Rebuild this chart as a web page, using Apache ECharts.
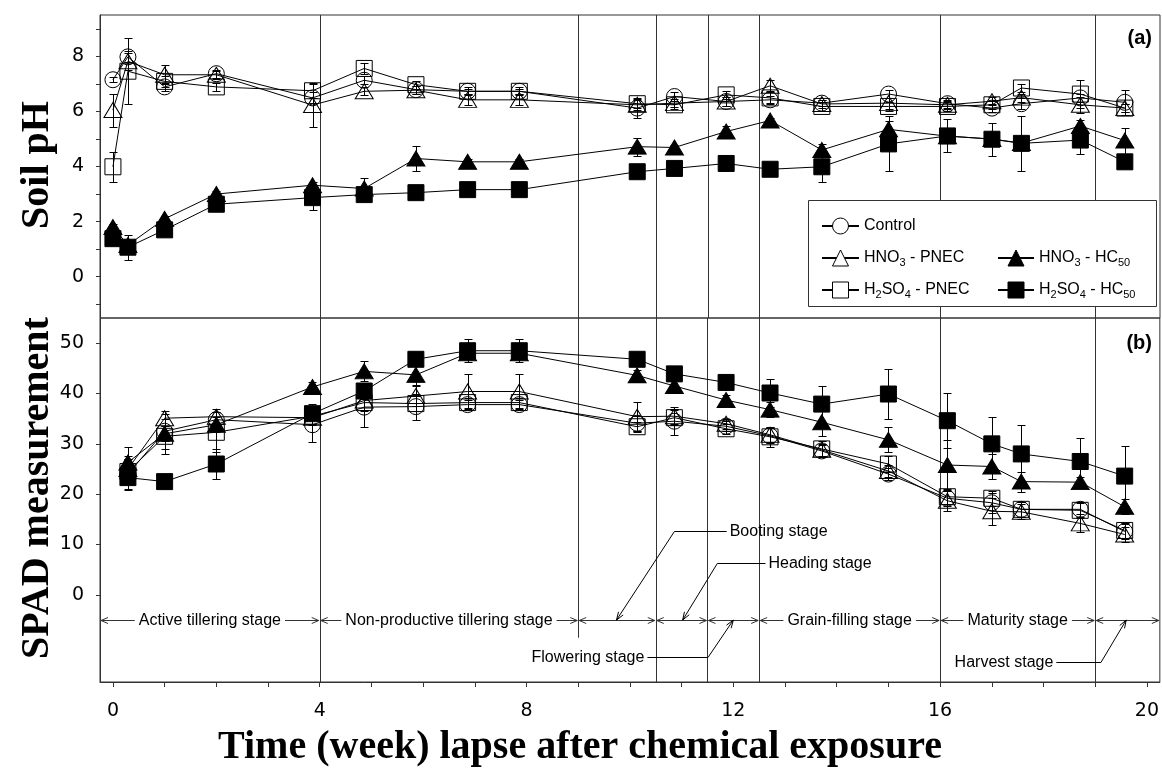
<!DOCTYPE html>
<html>
<head>
<meta charset="utf-8">
<title>Soil pH and SPAD</title>
<script src="https://cdn.jsdelivr.net/npm/echarts@6/dist/echarts.min.js"></script>
<style>
html, body { margin: 0; padding: 0; background: #fff; }
#main { width: 1162px; height: 771px; }
</style>
</head>
<body>
<div id="main"></div>
<script>
// sampling times (weeks after exposure)
var weeks = [0, 0.29, 1, 2, 3.86, 4.86, 5.86, 6.86, 7.86, 10.14, 10.86, 11.86, 12.71, 13.71, 15, 16.14, 17, 17.57, 18.71, 19.57];
var spadWeeks = [0.29, 1, 2, 3.86, 4.86, 5.86, 6.86, 7.86, 10.14, 10.86, 11.86, 12.71, 13.71, 15, 16.14, 17, 17.57, 18.71, 19.57];

// (a) soil pH
var phControl   = [7.15, 7.98, 6.89, 7.37, 6.49, 7.13, 6.79, 6.73, 6.73, 6.12, 6.54, 6.36, 6.42, 6.30, 6.63, 6.28, 6.12, 6.28, 6.49, 6.33];
var phHno3Pnec  = [6.05, 7.82, 7.33, 7.33, 6.23, 6.73, 6.77, 6.42, 6.42, 6.24, 6.30, 6.36, 6.93, 6.27, 6.30, 6.24, 6.37, 6.50, 6.24, 6.12];
var phH2so4Pnec = [3.99, 7.46, 7.09, 6.89, 6.75, 7.56, 6.97, 6.73, 6.73, 6.28, 6.24, 6.60, 6.49, 6.18, 6.18, 6.18, 6.24, 6.85, 6.63, 6.12];
var phHno3Hc    = [1.80, 1.15, 2.10, 3.00, 3.32, 3.20, 4.29, 4.17, 4.17, 4.72, 4.69, 5.27, 5.67, 4.60, 5.35, 5.10, 5.00, 4.85, 5.47, 4.94];
var phH2so4Hc   = [1.38, 1.07, 1.70, 2.63, 2.87, 2.98, 3.05, 3.16, 3.16, 3.81, 3.93, 4.11, 3.90, 3.99, 4.82, 5.11, 4.99, 4.84, 4.96, 4.17];

var phControlErr   = [0.10, 0.20, 0.15, 0.15, 0.20, 0.15, 0.15, 0.10, 0.10, 0.35, 0.15, 0.15, 0.15, 0.10, 0.15, 0.15, 0.15, 0.20, 0.15, 0.45];
var phHno3PnecErr  = [0.60, 0.30, 0.35, 0.15, 0.80, 0.15, 0.15, 0.20, 0.20, 0.20, 0.15, 0.15, 0.20, 0.15, 0.20, 0.15, 0.15, 0.15, 0.30, 0.15];
var phH2so4PnecErr = [0.55, 1.20, 0.20, 0.15, 0.25, 0.20, 0.15, 0.15, 0.15, 0.15, 0.15, 0.15, 0.20, 0.15, 0.15, 0.15, 0.15, 0.15, 0.50, 0.15];
var phHno3HcErr    = [0.10, 0.10, 0.10, 0.10, 0.10, 0.40, 0.45, 0.10, 0.10, 0.33, 0.10, 0.20, 0.10, 0.20, 0.30, 0.20, 0.20, 0.20, 0.20, 0.47];
var phH2so4HcErr   = [0.10, 0.45, 0.10, 0.10, 0.45, 0.10, 0.10, 0.10, 0.10, 0.10, 0.10, 0.10, 0.10, 0.55, 1.00, 0.60, 0.60, 1.00, 0.50, 0.10];

// (b) SPAD
var spadControl   = [24.0, 32.5, 34.8, 33.8, 37.3, 37.4, 37.8, 37.8, 34.1, 34.5, 33.5, 31.6, 28.6, 24.0, 19.2, 18.3, 17.0, 17.0, 12.6];
var spadHno3Pnec  = [25.0, 35.1, 35.4, 35.2, 38.6, 39.5, 40.4, 40.4, 35.4, 35.5, 34.0, 31.8, 28.8, 24.6, 18.7, 16.6, 16.5, 14.2, 12.0];
var spadH2so4Pnec = [24.5, 31.5, 32.3, 35.5, 38.2, 38.0, 38.2, 38.2, 33.4, 35.2, 33.0, 31.4, 29.0, 26.0, 19.5, 19.2, 17.0, 16.8, 12.8];
var spadHno3Hc    = [26.3, 32.0, 33.8, 41.3, 44.4, 43.7, 48.0, 48.0, 43.6, 41.5, 38.7, 36.8, 34.3, 30.8, 25.8, 25.5, 22.5, 22.4, 17.5];
var spadH2so4Hc   = [23.3, 22.5, 26.0, 36.0, 40.5, 46.8, 48.5, 48.5, 46.8, 43.9, 42.2, 40.1, 37.9, 39.9, 34.6, 30.0, 28.0, 26.5, 23.6];

var spadControlErr   = [3.0, 3.5, 1.5, 3.5, 4.0, 2.6, 1.0, 1.0, 1.5, 2.8, 1.0, 1.5, 1.2, 1.2, 1.5, 2.0, 1.5, 1.5, 1.5];
var spadHno3PnecErr  = [2.5, 1.5, 1.6, 1.5, 2.0, 2.0, 3.4, 3.4, 2.9, 1.5, 1.0, 1.5, 1.2, 1.2, 2.0, 2.7, 1.5, 1.8, 1.5];
var spadH2so4PnecErr = [2.5, 3.5, 4.0, 1.5, 1.5, 1.5, 1.0, 1.0, 1.0, 1.5, 1.0, 2.0, 1.5, 1.5, 1.5, 1.5, 1.5, 1.5, 1.5];
var spadHno3HcErr    = [3.0, 1.5, 1.5, 1.0, 2.0, 2.0, 1.0, 1.0, 1.0, 1.0, 1.0, 1.5, 2.7, 2.5, 5.0, 2.5, 2.0, 1.0, 1.5];
var spadH2so4HcErr   = [2.5, 0.5, 3.0, 2.0, 1.5, 1.0, 2.3, 2.3, 1.0, 1.0, 1.0, 2.7, 3.5, 5.0, 5.5, 5.3, 5.7, 4.6, 5.9];

// axis ticks
var xTicks = [0,1,2,3,4,5,6,7,8,9,10,11,12,13,14,15,16,17,18,19,20];
var xLabels = [0, 4, 8, 12, 16, 20];
var phTicks = [-1,0,1,2,3,4,5,6,7,8,9];
var phLabels = [0, 2, 4, 6, 8];
var spadLabels = [0, 10, 20, 30, 40, 50];

// growth stages
var stageBounds = [4, 9, 10.5, 11.5, 12.5, 16, 19];
var stageStart = [-0.25, 4, 9, 10.5, 11.5, 12.5, 16, 19];
var stageEnd   = [4, 9, 10.5, 11.5, 12.5, 16, 19, 20.25];
var stageLabel = ['Active tillering stage', 'Non-productive tillering stage', '', '', '', 'Grain-filling stage', 'Maturity stage', ''];
var calloutLabel = ['Booting stage', 'Heading stage', 'Flowering stage', 'Harvest stage'];

var treatments = [
  {name: 'Control',      symbol: 'circle',   size: 16,       filled: false, ph: phControl,   phErr: phControlErr,   spad: spadControl,   spadErr: spadControlErr},
  {name: 'HNO3 - PNEC',  symbol: 'triangle', size: [18, 15], filled: false, ph: phHno3Pnec,  phErr: phHno3PnecErr,  spad: spadHno3Pnec,  spadErr: spadHno3PnecErr},
  {name: 'H2SO4 - PNEC', symbol: 'rect',     size: 16,       filled: false, ph: phH2so4Pnec, phErr: phH2so4PnecErr, spad: spadH2so4Pnec, spadErr: spadH2so4PnecErr},
  {name: 'HNO3 - HC50',  symbol: 'triangle', size: [18, 15], filled: true,  ph: phHno3Hc,    phErr: phHno3HcErr,    spad: spadHno3Hc,    spadErr: spadHno3HcErr},
  {name: 'H2SO4 - HC50', symbol: 'rect',     size: 16,       filled: true,  ph: phH2so4Hc,   phErr: phH2so4HcErr,   spad: spadH2so4Hc,   spadErr: spadH2so4HcErr}
];

var XMIN = -0.25, XMAX = 20.25;
var PH_MIN = -1.5, PH_MAX = 9.5;
var SPAD_MIN = -17.3, SPAD_MAX = 55;
var STAGE_Y = -5;
var SANS = '"Liberation Sans", Arial, sans-serif';
var SERIF = '"Liberation Serif", "Times New Roman", serif';

function px(v) { return Math.round(v) + 0.5; }

function renderErr(params, api) {
  var x = api.value(0), y = api.value(1), e = api.value(2);
  var top = api.coord([x, y + e]), bot = api.coord([x, y - e]);
  var cx = px(top[0]), c = 4, st = {stroke: '#000', lineWidth: 1};
  return {type: 'group', children: [
    {type: 'line', shape: {x1: cx, y1: px(top[1]), x2: cx, y2: px(bot[1])}, style: st},
    {type: 'line', shape: {x1: cx - c, y1: px(top[1]), x2: cx + c, y2: px(top[1])}, style: st},
    {type: 'line', shape: {x1: cx - c, y1: px(bot[1]), x2: cx + c, y2: px(bot[1])}, style: st}
  ]};
}

function renderVLine(params, api) {
  var a = api.coord([api.value(0), api.value(1)]);
  var b = api.coord([api.value(0), api.value(2)]);
  return {type: 'line', shape: {x1: px(a[0]), y1: a[1], x2: px(a[0]), y2: b[1]},
          style: {stroke: '#333', lineWidth: 1}};
}

function renderStage(params, api) {
  var i = api.value(0);
  var p1 = api.coord([stageStart[i], STAGE_Y]), p2 = api.coord([stageEnd[i], STAGE_Y]);
  var y = px(p1[1]), st = {stroke: '#333', lineWidth: 1, fill: null};
  var kids = [
    {type: 'line', shape: {x1: p1[0] + 1, y1: y, x2: p2[0] - 1, y2: y}, style: st},
    {type: 'polyline', shape: {points: [[p1[0] + 8, y - 3], [p1[0] + 1, y], [p1[0] + 8, y + 3]]}, style: st},
    {type: 'polyline', shape: {points: [[p2[0] - 8, y - 3], [p2[0] - 1, y], [p2[0] - 8, y + 3]]}, style: st}
  ];
  if (stageLabel[i]) {
    kids.push({type: 'text', x: (p1[0] + p2[0]) / 2, y: y,
      style: {text: stageLabel[i], font: '16px ' + SANS, fill: '#000', align: 'center', verticalAlign: 'middle',
              backgroundColor: '#fff', padding: [0, 4]}});
  }
  return {type: 'group', children: kids};
}

// callout geometry in (week, SPAD) units: arrow tip, elbow, text anchor
var calloutGeom = [
  {tip: [9.74, STAGE_Y], elbow: [10.86, 12.7], text: [11.93, 12.7], align: 'left'},
  {tip: [11.02, STAGE_Y], elbow: [11.69, 6.4], text: [12.68, 6.4], align: 'left'},
  {tip: [12.0, STAGE_Y], elbow: [11.51, -12.3], text: [10.28, -12.3], align: 'right'},
  {tip: [19.6, STAGE_Y], elbow: [19.11, -13.3], text: [18.19, -13.3], align: 'right'}
];

function renderCallout(params, api) {
  var i = api.value(0), g = calloutGeom[i];
  var t = api.coord(g.tip), e = api.coord(g.elbow), s = api.coord(g.text);
  var st = {stroke: '#000', lineWidth: 1, fill: null};
  var ey = px(e[1]);
  var lineEnd = g.align === 'left' ? s[0] - 3 : s[0] + 3;
  var dx = t[0] - e[0], dy = t[1] - ey, len = Math.sqrt(dx * dx + dy * dy);
  var ux = dx / len, uy = dy / len, h = 8, w = 2.8;
  var bx = t[0] - ux * h, by = t[1] - uy * h;
  return {type: 'group', children: [
    {type: 'polyline', shape: {points: [[lineEnd, ey], [e[0], ey], [t[0], t[1]]]}, style: st},
    {type: 'polyline', shape: {points: [[bx - uy * w, by + ux * w], [t[0], t[1]], [bx + uy * w, by - ux * w]]}, style: st},
    {type: 'text', x: s[0], y: ey, style: {text: calloutLabel[i], font: '16px ' + SANS, fill: '#000',
      align: g.align, verticalAlign: 'middle'}}
  ]};
}

var series = [];
// stage boundary lines
series.push({type: 'custom', xAxisIndex: 0, yAxisIndex: 0, silent: true, z: 1, renderItem: renderVLine,
  data: stageBounds.map(function (b) { return [b, PH_MIN, PH_MAX]; })});
var spadLines = stageBounds.map(function (b) {
  if (b === 9) return [b, -8.5, SPAD_MAX];
  if (b === 12.5) return [b, 9.3, SPAD_MAX];
  return [b, SPAD_MIN, SPAD_MAX];
});
spadLines.push([12.5, SPAD_MIN, 16.5]);
series.push({type: 'custom', xAxisIndex: 1, yAxisIndex: 1, silent: true, z: 1, renderItem: renderVLine, data: spadLines});
series.push({type: 'custom', xAxisIndex: 1, yAxisIndex: 1, silent: true, z: 1, renderItem: renderStage,
  data: stageLabel.map(function (l, i) { return [i, STAGE_Y]; })});
series.push({type: 'custom', xAxisIndex: 1, yAxisIndex: 1, silent: true, z: 1, renderItem: renderCallout,
  data: calloutLabel.map(function (l, i) { return [i, STAGE_Y]; })});

treatments.forEach(function (t) {
  [[weeks, t.ph, t.phErr, 0], [spadWeeks, t.spad, t.spadErr, 1]].forEach(function (p) {
    var xs = p[0], ys = p[1], es = p[2], k = p[3];
    series.push({type: 'custom', xAxisIndex: k, yAxisIndex: k, silent: true, z: 2, renderItem: renderErr,
      data: xs.map(function (x, i) { return [x, ys[i], es[i]]; })});
    series.push({name: t.name, type: 'line', xAxisIndex: k, yAxisIndex: k, z: 3,
      data: xs.map(function (x, i) { return [x, ys[i]]; }),
      symbol: t.symbol, symbolSize: t.size, showAllSymbol: true,
      lineStyle: {color: '#000', width: 1},
      itemStyle: {color: t.filled ? '#000' : 'rgba(255,255,255,0)', borderColor: '#000', borderWidth: 1},
      emphasis: {disabled: true}});
  });
});

var richNames = {
  'Control': 'Control',
  'HNO3 - PNEC': 'HNO{s|3} - PNEC',
  'H2SO4 - PNEC': 'H{s|2}SO{s|4} - PNEC',
  'HNO3 - HC50': 'HNO{s|3} - HC{s|50}',
  'H2SO4 - HC50': 'H{s|2}SO{s|4} - HC{s|50}'
};
function legendItem(name, filled) {
  return {name: name, itemStyle: {color: filled ? '#000' : '#fff', borderColor: '#000', borderWidth: 1}};
}
var legendText = {color: '#000', fontFamily: SANS, fontSize: 16, lineHeight: 20,
  rich: {s: {fontSize: 11, fontFamily: SANS, color: '#000', lineHeight: 12, verticalAlign: 'bottom', padding: [6, 0, 0, 0]}}};

var chart = echarts.init(document.getElementById('main'), null, {renderer: 'canvas'});
chart.setOption({
  animation: false,
  backgroundColor: '#fff',
  grid: [
    {left: 100, top: 15, width: 1060, height: 303, show: true, borderColor: '#333', borderWidth: 1, backgroundColor: 'transparent'},
    {left: 100, top: 318, width: 1060, height: 364, show: true, borderColor: '#333', borderWidth: 1, backgroundColor: 'transparent'}
  ],
  xAxis: [
    {type: 'value', gridIndex: 0, min: XMIN, max: XMAX, show: false},
    {type: 'value', gridIndex: 1, min: XMIN, max: XMAX,
      axisLine: {show: true, onZero: false, lineStyle: {color: '#333'}},
      axisTick: {show: true, customValues: xTicks, length: 5, lineStyle: {color: '#333'}},
      axisLabel: {customValues: xLabels, margin: 20, fontSize: 19, fontFamily: '"DejaVu Sans", sans-serif', color: '#000'},
      splitLine: {show: false}}
  ],
  yAxis: [
    {type: 'value', gridIndex: 0, min: PH_MIN, max: PH_MAX,
      axisLine: {show: true, onZero: false, lineStyle: {color: '#333'}},
      axisTick: {show: true, customValues: phTicks, length: 4, lineStyle: {color: '#333'}},
      axisLabel: {customValues: phLabels, margin: 16, fontSize: 19, fontFamily: '"DejaVu Sans", sans-serif', color: '#000'},
      splitLine: {show: false}},
    {type: 'value', gridIndex: 1, min: SPAD_MIN, max: SPAD_MAX,
      axisLine: {show: true, onZero: false, lineStyle: {color: '#333'}},
      axisTick: {show: true, customValues: spadLabels, length: 4, lineStyle: {color: '#333'}},
      axisLabel: {customValues: spadLabels, margin: 16, fontSize: 19, fontFamily: '"DejaVu Sans", sans-serif', color: '#000'},
      splitLine: {show: false}}
  ],
  legend: [
    {orient: 'vertical', left: 816, top: 211, itemWidth: 37, itemHeight: 20, itemGap: 12, selectedMode: false, z: 10,
      data: [legendItem('Control', false), legendItem('HNO3 - PNEC', false), legendItem('H2SO4 - PNEC', false)],
      formatter: function (n) { return richNames[n]; }, textStyle: legendText},
    {orient: 'vertical', left: 992, top: 243, itemWidth: 36, itemHeight: 20, itemGap: 12, selectedMode: false, z: 10,
      data: [legendItem('HNO3 - HC50', true), legendItem('H2SO4 - HC50', true)],
      formatter: function (n) { return richNames[n]; }, textStyle: legendText}
  ],
  graphic: [
    {type: 'rect', z: 5, shape: {x: 808.5, y: 200.5, width: 348, height: 106}, style: {fill: '#fff', stroke: '#333', lineWidth: 1}},
    {type: 'text', z: 5, x: 1152, y: 38, style: {text: '(a)', font: 'bold 20px ' + SANS, fill: '#000', align: 'right', verticalAlign: 'middle'}},
    {type: 'text', z: 5, x: 1152, y: 343, style: {text: '(b)', font: 'bold 20px ' + SANS, fill: '#000', align: 'right', verticalAlign: 'middle'}},
    {type: 'text', z: 5, x: 38, y: 165, rotation: Math.PI / 2, style: {text: 'Soil pH', font: 'bold 40px ' + SERIF, fill: '#000', align: 'center', verticalAlign: 'middle'}},
    {type: 'text', z: 5, x: 38, y: 488, rotation: Math.PI / 2, style: {text: 'SPAD measurement', font: 'bold 40px ' + SERIF, fill: '#000', align: 'center', verticalAlign: 'middle'}},
    {type: 'text', z: 5, x: 580, y: 748, style: {text: 'Time (week) lapse after chemical exposure', font: 'bold 40px ' + SERIF, fill: '#000', align: 'center', verticalAlign: 'middle'}}
  ],
  series: series
});
</script>
</body>
</html>
